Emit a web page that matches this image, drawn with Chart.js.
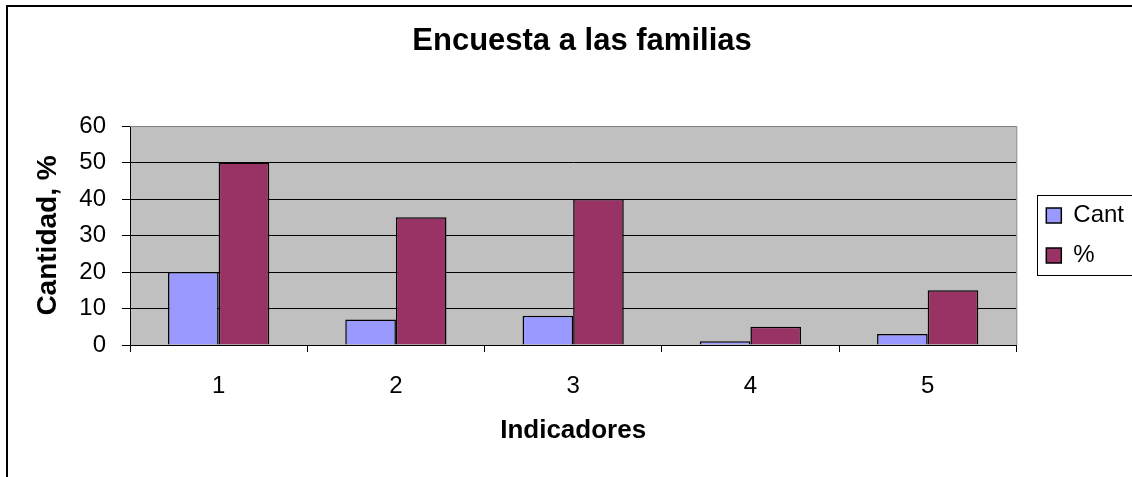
<!DOCTYPE html>
<html><head><meta charset="utf-8">
<script src="https://cdn.jsdelivr.net/npm/chart.js@4.4.1/dist/chart.umd.min.js"></script>
<style>html,body{margin:0;padding:0;background:#fff;overflow:hidden}canvas{display:block}</style>
</head><body>
<canvas id="c" width="1132" height="477"></canvas>
<script>
const categories = ['1', '2', '3', '4', '5'];
const cantValues = [20, 7, 8, 1, 3];
const pctValues = [50, 35, 40, 5, 15];
const seriesNames = ['Cant', '%'];
const yTicks = [0, 10, 20, 30, 40, 50, 60];
const chartTitle = 'Encuesta a las familias';
const xTitle = 'Indicadores';
const yTitle = 'Cantidad, %';

const FONT = "'Liberation Sans', Arial, sans-serif";

const excelPlugin = {
  id: 'excelLook',
  beforeDraw(chart) {
    const {ctx, chartArea: a} = chart;
    ctx.save();
    ctx.fillStyle = '#fff';
    ctx.fillRect(0, 0, chart.width, chart.height);
    ctx.fillStyle = '#C0C0C0';
    ctx.fillRect(a.left, a.top, a.right - a.left, a.bottom - a.top);
    ctx.strokeStyle = '#000';
    ctx.lineWidth = 2;
    ctx.strokeRect(7, 6, chart.width + 20, chart.height + 20);
    ctx.restore();
  },
  beforeDatasetsDraw(chart) {
    const {ctx, chartArea: a} = chart;
    ctx.save();
    ctx.strokeStyle = '#808080';
    ctx.lineWidth = 1;
    ctx.beginPath();
    ctx.moveTo(a.left, a.top + 0.5);
    ctx.lineTo(a.right + 0.5, a.top + 0.5);
    ctx.lineTo(a.right + 0.5, a.bottom);
    ctx.stroke();
    ctx.restore();
  },
  afterLayout(chart) {
    const lg = chart.legend;
    if (lg) {
      const w = lg.width;
      lg.left = chart.chartArea.right + 14;
      lg.right = lg.left + w;
    }
    const t = chart.titleBlock;
    if (t) { t.left += 22; t.right += 22; }
  },
  afterDraw(chart) {
    const lg = chart.legend;
    if (!lg || !lg.legendHitBoxes || !lg.legendHitBoxes.length) return;
    const hb = lg.legendHitBoxes;
    const top = Math.round(hb[0].top - 9) + 0.5;
    const last = hb[hb.length - 1];
    const bottom = Math.round(last.top + last.height + 7) + 0.5;
    const ctx = chart.ctx;
    ctx.save();
    ctx.strokeStyle = '#000';
    ctx.lineWidth = 1;
    ctx.strokeRect(Math.round(lg.left + 7) + 0.5, top, 300, bottom - top);
    ctx.restore();
  }
};

new Chart(document.getElementById('c'), {
  type: 'bar',
  data: {
    labels: categories,
    datasets: [
      { label: seriesNames[0], data: cantValues, backgroundColor: '#9999FF', borderColor: '#000', borderWidth: 1.5,
        categoryPercentage: 0.571, barPercentage: 1.0 },
      { label: seriesNames[1], data: pctValues, backgroundColor: '#993366', borderColor: '#000', borderWidth: 1.5,
        categoryPercentage: 0.571, barPercentage: 1.0 }
    ]
  },
  options: {
    responsive: false,
    animation: false,
    devicePixelRatio: 1,
    events: [],
    layout: { padding: { left: 0, right: 12, top: 0, bottom: 0 } },
    plugins: {
      tooltip: { enabled: false },
      title: {
        display: true, text: chartTitle, color: '#000',
        font: { family: FONT, size: 31, weight: 'bold' },
        padding: { top: 23, bottom: 65.8 }
      },
      legend: {
        display: true, position: 'right', align: 'center', fullSize: false,
        labels: { color: '#000', font: { family: FONT, size: 24 }, boxWidth: 15, boxHeight: 15, padding: 16 }
      }
    },
    scales: {
      x: {
        grid: { offset: true, drawOnChartArea: false, drawTicks: true, tickLength: 7, tickColor: '#000' },
        border: { color: '#000', width: 1 },
        ticks: { color: '#000', font: { family: FONT, size: 24 }, padding: 20, maxRotation: 0 },
        title: { display: true, text: xTitle, color: '#000', font: { family: FONT, size: 26, weight: 'bold' },
          padding: { top: 0, bottom: 31 } },
        afterFit(s) { s.height = 132; }
      },
      y: {
        min: 0, max: 60,
        afterBuildTicks(s) { s.ticks = yTicks.map(v => ({ value: v })); },
        grid: { color: c => (c.tick && c.tick.value === 60) ? '#808080' : '#000', tickColor: '#000', tickLength: 8 },
        border: { color: '#000', width: 1 },
        ticks: { color: '#000', font: { family: FONT, size: 24 }, padding: 16 },
        title: { display: true, text: yTitle, color: '#000', font: { family: FONT, size: 28, weight: 'bold' },
          padding: { top: 31, bottom: 0 } },
        afterFit(s) { s.width = 130; }
      }
    }
  },
  plugins: [excelPlugin]
});
</script>
</body></html>
